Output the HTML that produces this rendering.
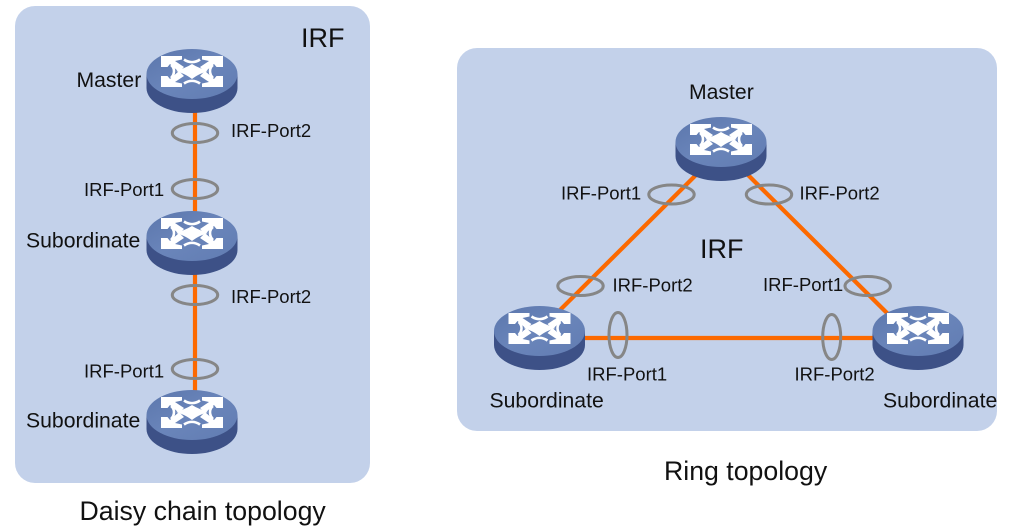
<!DOCTYPE html>
<html><head><meta charset="utf-8"><style>
html,body{margin:0;padding:0;background:#fff}
svg{display:block}
text{font-family:"Liberation Sans",sans-serif;fill:#111}
.l{font-size:21.200px}
.p{font-size:18.500px}
.t{font-size:26.700px}
</style></head><body>
<svg width="1016" height="531" viewBox="0 0 1016 531" xmlns="http://www.w3.org/2000/svg">
<defs>
<linearGradient id="top" x1="0" y1="0" x2="1" y2="1">
<stop offset="0" stop-color="#5b76ac"/><stop offset="0.5" stop-color="#6a85ba"/><stop offset="1" stop-color="#617cb2"/>
</linearGradient>
<g id="r">
<path d="M-45.500 0V14A45.500 25 0 0 0 45.500 14V0Z" fill="#3d5187"/>
<ellipse cx="0" cy="0" rx="45.500" ry="25" fill="url(#top)"/>
<g fill="#fff">
<path d="M-31-18H-10V-14.500L-17-13-8-7-13-2-22-10-24.500-7H-31Z"/>
<path d="M31-18H10V-14.500L17-13 8-7 13-2 22-10 24.500-7H31Z"/>
<path d="M-31 13H-10V9.500L-17 8-8 2-13-3-22 5-24.500 2H-31Z"/>
<path d="M31 13H10V9.500L17 8 8 2 13-3 22 5 24.500 2H31Z"/>
<path d="M0-10C5-7 10-5 16-3 10-1 5 1 0 5-5 1-10-1-16-3-10-5-5-7 0-10Z"/>
</g>
<g fill="none" stroke="#fff" stroke-width="2.600">
<path d="M-8-14.500C-3-11 3-11 8-14.500"/>
<path d="M-8 9.500C-3 6 3 6 8 9.500"/>
<path d="M-21-9C-17-6-17 0-21 4"/>
<path d="M21-9C17-6 17 0 21 4"/>
</g>
</g>
</defs>
<rect x="15" y="6" width="355" height="477" rx="20" fill="#c3d1ea"/>
<rect x="457" y="48" width="540" height="383" rx="20" fill="#c3d1ea"/>

<g stroke="#fc6900" stroke-width="4.200" fill="none">
<path d="M195 100V420"/>
<path d="M701 170L555 315"/>
<path d="M743 170L893 319"/>
<path d="M570 338H890"/>
</g>

<use href="#r" x="192" y="74"/>
<use href="#r" x="192" y="236"/>
<use href="#r" x="192" y="415"/>
<use href="#r" x="721" y="142"/>
<use href="#r" x="539.500" y="331"/>
<use href="#r" x="918" y="331"/>

<g fill="none" stroke="#868686" stroke-width="3">
<ellipse cx="195" cy="133" rx="22.700" ry="9.500"/>
<ellipse cx="195" cy="189" rx="22.700" ry="9.500"/>
<ellipse cx="195" cy="295" rx="22.700" ry="9.500"/>
<ellipse cx="195" cy="369" rx="22.700" ry="9.500"/>
<ellipse cx="671.500" cy="194.500" rx="22.700" ry="9.500"/>
<ellipse cx="769" cy="194.500" rx="22.700" ry="9.500"/>
<ellipse cx="580.500" cy="286" rx="22.700" ry="9.500"/>
<ellipse cx="867.700" cy="286" rx="22.700" ry="9.500"/>
<ellipse cx="618" cy="335" rx="9" ry="22.500"/>
<ellipse cx="831.700" cy="337" rx="9" ry="22.500"/>
</g>

<text x="301" y="47" font-size="27">IRF</text>
<text x="700" y="258" font-size="27">IRF</text>
<text x="76.500" y="87" class="l">Master</text>
<text x="26" y="247.500" class="l">Subordinate</text>
<text x="26" y="427.700" class="l">Subordinate</text>
<text x="689" y="99" class="l">Master</text>
<text x="489.500" y="407.700" class="l">Subordinate</text>
<text x="883" y="407.700" class="l">Subordinate</text>
<text x="231" y="137" class="p">IRF-Port2</text>
<text x="84" y="196" class="p">IRF-Port1</text>
<text x="231" y="303" class="p">IRF-Port2</text>
<text x="84" y="377.500" class="p">IRF-Port1</text>
<text x="561" y="199.500" class="p">IRF-Port1</text>
<text x="799.500" y="199.500" class="p">IRF-Port2</text>
<text x="612.500" y="291.500" class="p">IRF-Port2</text>
<text x="763" y="291" class="p">IRF-Port1</text>
<text x="587" y="380.700" class="p">IRF-Port1</text>
<text x="794.500" y="380.700" class="p">IRF-Port2</text>
<text x="79.500" y="520" class="t">Daisy chain topology</text>
<text x="664" y="480" class="t">Ring topology</text>
</svg>
</body></html>
